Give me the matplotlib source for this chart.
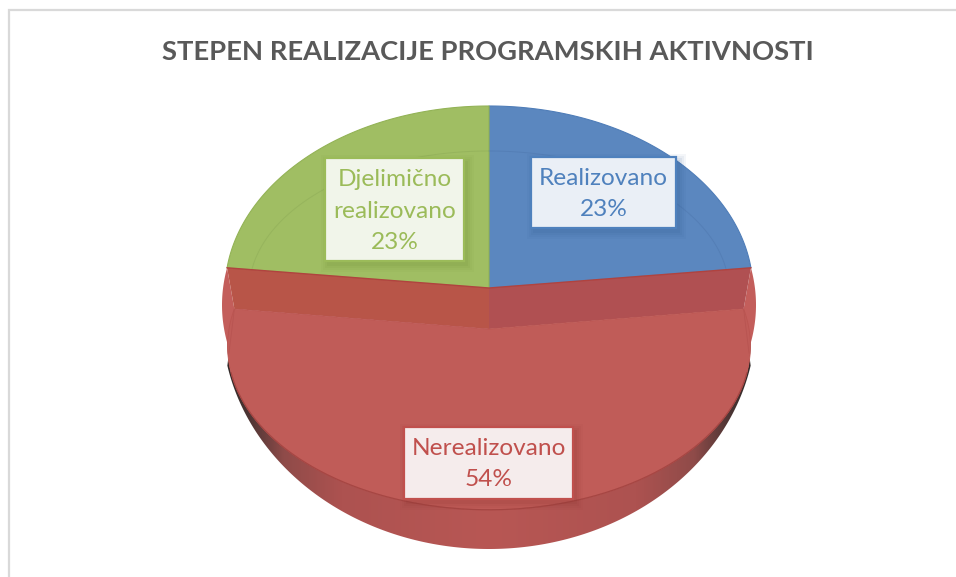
import numpy as np
import matplotlib
matplotlib.use("Agg")
import matplotlib.pyplot as plt
from matplotlib.patches import Polygon, Rectangle
from matplotlib.colors import LinearSegmentedColormap

title = "STEPEN REALIZACIJE PROGRAMSKIH AKTIVNOSTI"
categories = ["Realizovano", "Nerealizovano", "Djelimično\nrealizovano"]
shares = [23, 54, 23]

plt.rcParams["font.family"] = ["Lato", "DejaVu Sans"]
fig = plt.figure(figsize=(9.56, 5.77), dpi=100)
ax = fig.add_axes([0, 0, 1, 1])
ax.set_xlim(0, 956)
ax.set_ylim(577, 0)
ax.axis("off")

# clockwise slice boundaries from 12 o'clock, from the values
edges = np.deg2rad(np.cumsum([0] + shares) * 360 / sum(shares))
CX = 489


def arc(a0, a1, cy, rx, ry, n=120):
    t = np.linspace(a0, a1, n)
    return np.column_stack([CX + rx * np.sin(t), cy - ry * np.cos(t)])


def front(a0, a1, n=200):
    # lifted front slice, seen in perspective
    t = np.linspace(a0, a1, n)
    u, v = np.sin(t), np.cos(t)
    d = 1 + 0.104 * v
    return np.column_stack([CX + 260 * u / d, 329 - 162 * v / d])


def add(pts, **kw):
    p = Polygon(pts, closed=True, **kw)
    ax.add_patch(p)
    return p


def flank(side, top, corner):
    # bulging side of the red slice between the back rim and the front rim
    y = np.linspace(top[1], 353, 40)
    x = CX + side * (267 - 0.00365 * (y - 305) ** 2)
    return add(np.vstack([np.column_stack([x, y]), corner]), fc="#C35E5B", ec="none", zorder=4)


# frame
ax.plot([9, 9, 956], [577, 10, 10], color="#D9D9D9", lw=1.6, solid_joinstyle="miter", zorder=1)

# back slices
TIP = np.array([[CX, 288]])
BACK = dict(cy=291, rx=264, ry=185)
add(np.vstack([TIP, arc(edges[0], edges[1], **BACK)]), fc="#5B87BF", ec="#4F7DB8", lw=0.8, zorder=2)
add(np.vstack([TIP, arc(edges[2], edges[3], **BACK)]), fc="#A0BE63", ec="#93B356", lw=0.8, zorder=2)

# faint inner rims on the back slices
inner = dict(cy=291, rx=240, ry=140)
p = arc(edges[0], edges[1], **inner)
ax.plot(p[:, 0], p[:, 1], color="#5079B0", lw=0.7, alpha=0.6, zorder=3)
p = arc(edges[2], edges[3], **inner)
ax.plot(p[:, 0], p[:, 1], color="#92B05A", lw=0.7, alpha=0.7, zorder=3)

# outer wall of the red slice with horizontal shading
ang = np.linspace(np.deg2rad(101.5), np.deg2rad(258.5), 200)
outer = np.column_stack([CX + 267 * np.sin(ang), 320 - 229 * np.cos(ang)])
wall = add(np.vstack([outer, front(edges[2], edges[1])]), fc="none", ec="none", zorder=3)
cmap = LinearSegmentedColormap.from_list(
    "wall",
    [(0.0, "#2E2726"), (0.04, "#4A3433"), (0.11, "#8F4B49"), (0.22, "#AD5250"),
     (0.5, "#B85754"), (0.78, "#AD5250"), (0.89, "#8F4B49"), (0.96, "#4A3433"), (1.0, "#2E2726")],
)
grad = ax.imshow(np.linspace(0, 1, 256)[None, :], extent=(225, 753, 560, 330), cmap=cmap,
                 aspect="auto", zorder=3.1)
grad.set_clip_path(wall)
ax.set_xlim(0, 956)
ax.set_ylim(577, 0)

# side flanks between the back rim and the front rim
lc = front(edges[2], edges[2])[0]
rc = front(edges[1], edges[1])[0]
bl = arc(edges[2], edges[2], **BACK)[0]
br = arc(edges[1], edges[1], **BACK)[0]
flank(-1, bl, lc)
flank(1, br, rc)

# cut faces of the red slice
add([bl, [CX, 288], [CX, 329], lc], fc="#B85548", ec="none", zorder=4)
add([br, [CX, 288], [CX, 329], rc], fc="#B05052", ec="none", zorder=4)
ax.plot([bl[0], CX, br[0]], [bl[1], 288, br[1]], color="#B0433F", lw=1, zorder=5)

# top of the red slice
top = front(edges[1], edges[2])
add(np.vstack([[[CX, 329]], top]), fc="#C05C58", ec="#BB5450", lw=0.6, zorder=5)
low = top[top[:, 1] > 372]
ax.plot(low[:, 0], low[:, 1], color="#A64643", lw=0.9, zorder=6)
ax.plot([229, lc[0]], [353, lc[1]], color="#B85451", lw=0.6, zorder=6)
ax.plot([749, rc[0]], [353, rc[1]], color="#B85451", lw=0.6, zorder=6)


# data labels
def label(box, text, edge, face, shadow, y):
    x0, y0, x1, y1 = box
    for grow, a in [(7, 0.05), (5, 0.06), (3, 0.08), (1, 0.10)]:
        ax.add_patch(Rectangle((x0 + 3 - grow, y0 + 4 - grow), x1 - x0 + 2 * grow, y1 - y0 + 2 * grow,
                               fc=shadow, ec="none", alpha=a, zorder=7))
    ax.add_patch(Rectangle((x0, y0), x1 - x0, y1 - y0, fc=face, ec=edge, lw=1.6, zorder=8))
    ax.text((x0 + x1) / 2, y, text, color=edge, ha="center", va="center",
            fontsize=17.6, linespacing=1.63, zorder=9)


boxes = [(531, 157, 676, 228), (404, 427, 573, 499), (325, 158, 464, 261)]
colors = ["#4F81BD", "#C0504D", "#9BBB59"]
faces = ["#EAEFF6", "#F5ECEC", "#F1F5EA"]
shadows = ["#2F5B92", "#8A3532", "#6E8C36"]
centers = [194, 464, 211]
for name, share, b, c, f, s, y in zip(categories, shares, boxes, colors, faces, shadows, centers):
    label(b, f"{name}\n{share}%", c, f, s, y)

ax.text(487.5, 52, title, color="#595959", ha="center", va="center", fontsize=19.7, fontweight="bold", zorder=9)

fig.savefig("out.png", dpi=100)
